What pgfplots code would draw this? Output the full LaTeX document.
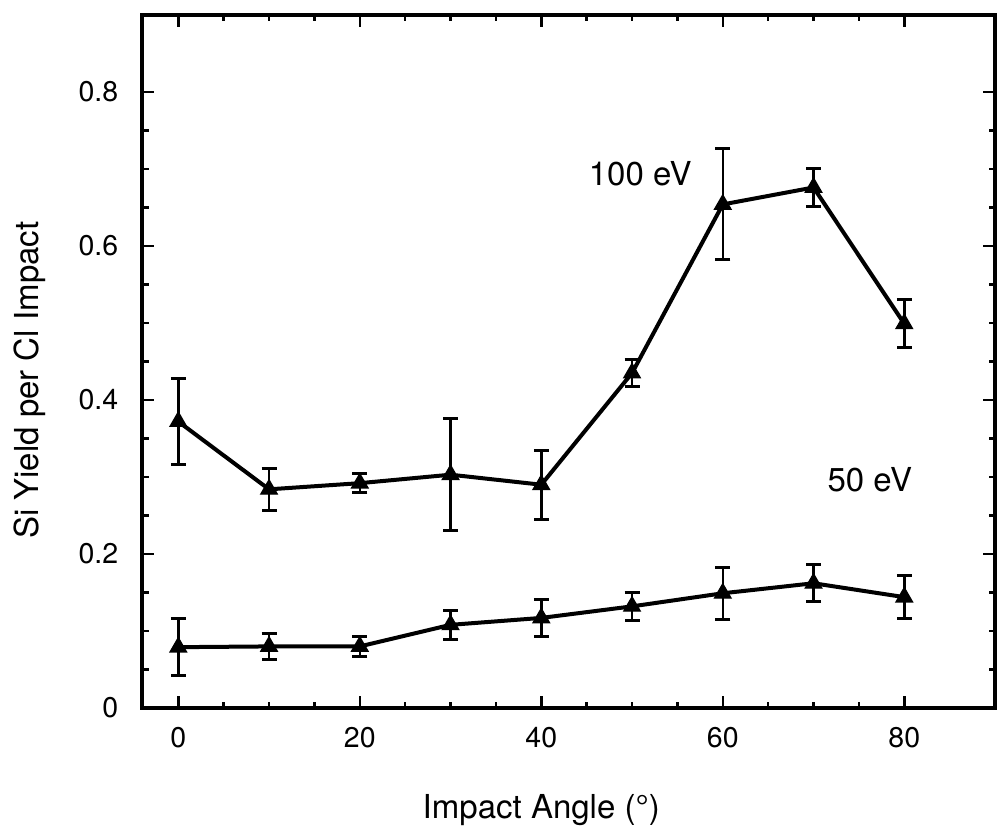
\documentclass[border=0pt]{standalone}
\usepackage{fontspec}
\setmainfont{TeX Gyre Heros}
\usepackage{pgfplots}
\pgfplotsset{compat=1.18}

\begin{document}
\begin{tikzpicture}
  \begin{axis}[
    scale only axis,
    width=341.2pt,
    height=277.2pt,
    xmin=-4, xmax=90,
    ymin=0, ymax=0.9,
    xtick={0,20,40,60,80},
    ytick={0,0.2,0.4,0.6,0.8},
    minor x tick num=3,
    minor y tick num=3,
    tick align=inside,
    major tick length=4.8pt,
    minor tick length=2.6pt,
    every tick/.style={black, line width=1pt},
    axis line style={line width=1.3pt},
    /pgf/number format/assume math mode=true,
    yticklabel style={
      font=\fontsize{11.4}{13}\selectfont,
      xshift=-6pt,
      /pgf/number format/fixed,
      /pgf/number format/precision=1
    },
    xticklabel style={font=\fontsize{11.4}{13}\selectfont, yshift=-4pt},
    xlabel={Impact Angle (°)},
    ylabel={Si Yield per Cl Impact},
    xlabel style={
      font=\fontsize{13.2}{15}\selectfont,
      at={(rel axis cs:0.468,0)}, anchor=base, yshift=-44pt
    },
    ylabel style={
      font=\fontsize{13.2}{15}\selectfont,
      at={(rel axis cs:0,0.473)}, anchor=center, yshift=44.8pt
    },
    clip=false
  ]
    % 100 eV
    \addplot[
      black, line width=1.6pt,
      mark=triangle*, mark size=3.8pt,
      mark options={solid, fill=black, line width=0.5pt},
      error bars/.cd, y dir=both, y explicit,
      error bar style={line width=1pt},
      error mark options={line width=1.2pt, mark size=3pt, rotate=90}
    ] coordinates {
      (0,0.372)  +- (0,0.056)
      (10,0.284) +- (0,0.027)
      (20,0.292) +- (0,0.012)
      (30,0.303) +- (0,0.073)
      (40,0.290) +- (0,0.045)
      (50,0.435) +- (0,0.017)
      (60,0.654) +- (0,0.072)
      (70,0.676) +- (0,0.025)
      (80,0.499) +- (0,0.031)
    };
    % 50 eV
    \addplot[
      black, line width=1.6pt,
      mark=triangle*, mark size=3.8pt,
      mark options={solid, fill=black, line width=0.5pt},
      error bars/.cd, y dir=both, y explicit,
      error bar style={line width=1pt},
      error mark options={line width=1.2pt, mark size=3pt, rotate=90}
    ] coordinates {
      (0,0.079)  +- (0,0.037)
      (10,0.080) +- (0,0.017)
      (20,0.080) +- (0,0.013)
      (30,0.108) +- (0,0.019)
      (40,0.117) +- (0,0.024)
      (50,0.132) +- (0,0.018)
      (60,0.149) +- (0,0.034)
      (70,0.162) +- (0,0.024)
      (80,0.144) +- (0,0.028)
    };
    \node[font=\fontsize{13.2}{15}\selectfont] at (axis cs:50.9,0.694) {100 eV};
    \node[font=\fontsize{13.2}{15}\selectfont] at (axis cs:76.2,0.296) {50 eV};
    \coordinate (ll) at (rel axis cs:0,0);
    \coordinate (ur) at (rel axis cs:1,1);
  \end{axis}
  \pgfresetboundingbox
  \path[use as bounding box] ([xshift=-56.8pt,yshift=-48pt]ll) rectangle ([xshift=1.6pt,yshift=6pt]ur);
\end{tikzpicture}
\end{document}
